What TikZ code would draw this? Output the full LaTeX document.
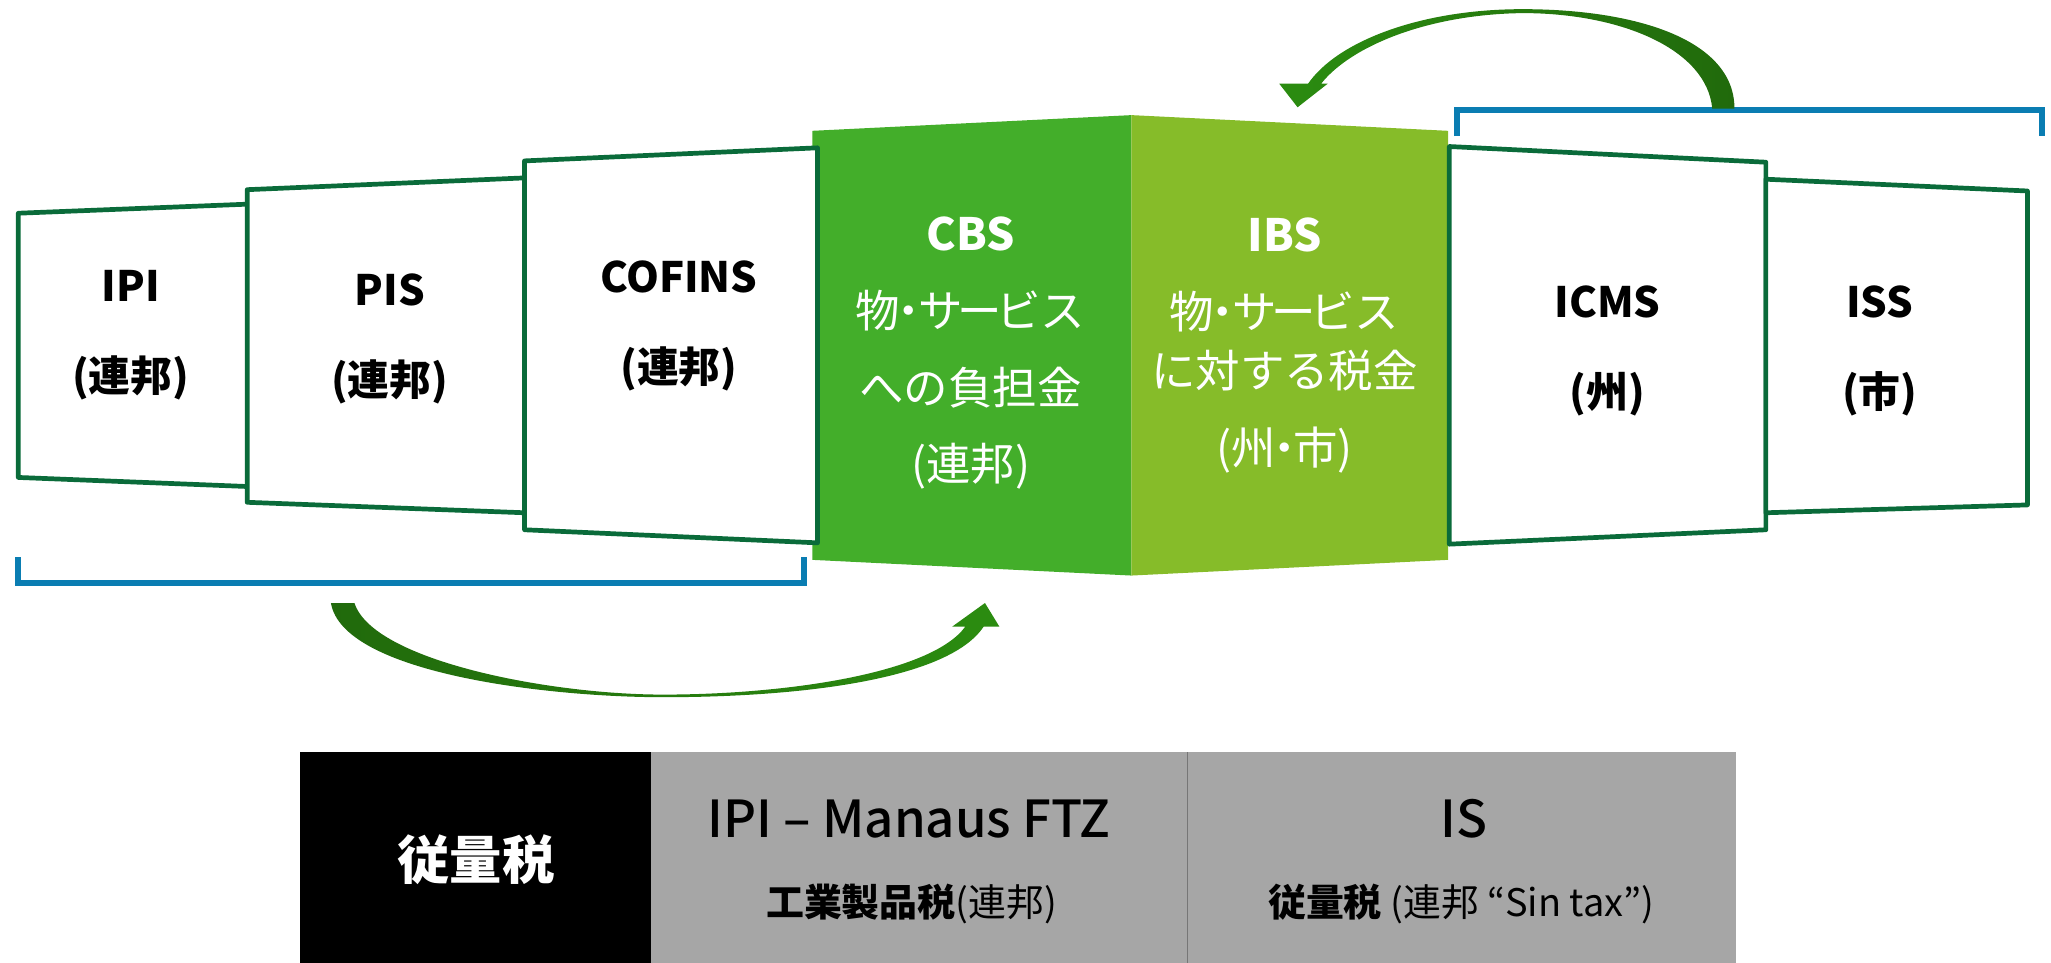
\documentclass[tikz,border=0pt]{standalone}
\usepackage{fontspec}
\setmainfont{Noto Sans CJK JP}
\newfontfamily\medium{Noto Sans CJK JP Medium}

\definecolor{boxline}{RGB}{10,107,58}
\definecolor{cbsgreen}{RGB}{67,174,42}
\definecolor{ibsgreen}{RGB}{134,188,41}
\definecolor{bracketblue}{RGB}{10,125,178}
\definecolor{arrowdark}{RGB}{33,106,12}
\definecolor{arrowlight}{RGB}{43,140,16}
\definecolor{cellgray}{RGB}{166,166,166}
\definecolor{divgray}{RGB}{118,118,118}

\newcommand{\middot}{\kern-0.3em・\kern-0.3em}
\newcommand{\longbar}{\kern-0.12em ー\kern-0.12em}

\begin{document}
\begin{tikzpicture}[x=0.5pt, y=-0.5pt,
  tax/.style={fill=white, draw=boxline, line width=1.8pt, line join=round},
  bracket/.style={draw=bracketblue, line width=2.3pt},
  taxlabel/.style={align=center, font=\bfseries\fontsize{16}{34.5}\selectfont},
  newlabel/.style={align=center, text=white, font=\fontsize{17}{29.3}\selectfont}]

\useasboundingbox (0,0) rectangle (1568,736);

\fill[cbsgreen] (621,100) -- (865,88) -- (865,440) -- (621,428) -- cycle;
\fill[ibsgreen] (865,88) -- (1107,100) -- (1107,428) -- (865,440) -- cycle;

\draw[tax] (14,163) -- (191,156) -- (191,372) -- (14,365) -- cycle;
\draw[tax] (189,145) -- (401,136) -- (401,392) -- (189,384) -- cycle;
\draw[tax] (401,123) -- (625,113) -- (625,415) -- (401,405) -- cycle;
\draw[tax] (1108,112) -- (1350,124) -- (1350,405) -- (1108,416) -- cycle;
\draw[tax] (1350,137) -- (1550,146) -- (1550,386) -- (1350,392) -- cycle;

\node[taxlabel] (ipi) at (100,256) {IPI\\(連邦)};
\node[taxlabel] (pis) at (298,259) {PIS\\(連邦)};
\node[taxlabel] (cofins) at (519,249) {COFINS\\(連邦)};
\node[newlabel] (cbs) at (742,270) {\textbf{CBS}\\物\middot サ\longbar ビス\\への負担金\\(連邦)};
\node[newlabel] (ibs) at (982,264) {\textbf{IBS}\\物\middot サ\longbar ビス\\[-6.5pt]に対する税金\\(州\middot 市)};
\node[taxlabel] (icms) at (1229,268) {ICMS\\(州)};
\node[taxlabel] (iss) at (1437,268) {ISS\\(市)};

\draw[bracket] (14,426) -- (14,446) -- (615,446) -- (615,426);
\draw[bracket] (1114,104) -- (1114,84) -- (1561,84) -- (1561,104);

% federal taxes -> CBS
\shade[left color=arrowdark, right color=arrowlight] (253,461) .. controls (262,515) and (420,533) .. (507,533) .. controls (610,533) and (725,520) .. (752,479) -- (764,479) -- (753,461) -- (728,479) -- (738,479) .. controls (712,515) and (600,531) .. (507,531) .. controls (420,531) and (285,505) .. (271,461) -- cycle;
% state and city taxes -> IBS
\shade[left color=arrowlight, right color=arrowdark] (1326,83) .. controls (1326,30) and (1250,7) .. (1164,7) .. controls (1085,7) and (1022,32) .. (1000,64) -- (978,64) -- (992,82) -- (1015,64) -- (1010,64) .. controls (1032,36) and (1090,11) .. (1164,10) .. controls (1240,10) and (1305,38) .. (1309,83) -- cycle;

\fill[black] (229,575) rectangle (498,736);
\fill[cellgray] (498,575) rectangle (1327,736);
\draw[divgray, line width=0.5pt] (908,575) -- (908,736);

\node[text=white, font=\bfseries\fontsize{20}{24}\selectfont] (selective) at (364,657) {従量税};
\node[font=\medium\fontsize{19.5}{24}\selectfont] (manaus) at (695,626) {IPI – Manaus FTZ};
\node[font=\fontsize{14.5}{18}\selectfont] (manausnote) at (697,691) {\textbf{工業製品税}(連邦)};
\node[font=\medium\fontsize{19.5}{24}\selectfont] (is) at (1119,626) {IS};
\node[font=\fontsize{14.5}{18}\selectfont] (isnote) at (1117,691) {\textbf{従量税} (連邦 “Sin tax”)};
\end{tikzpicture}
\end{document}
